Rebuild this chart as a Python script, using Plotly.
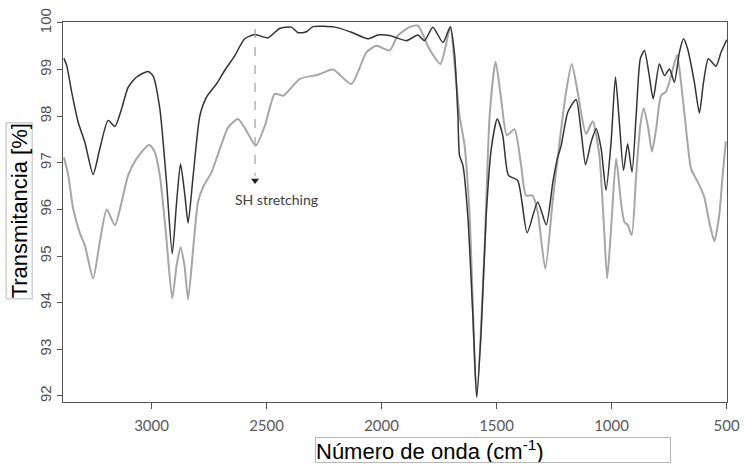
import plotly.graph_objects as go

# Dark spectrum
wn_dark = [3381, 3369, 3347, 3319, 3290, 3254, 3225, 3189, 3159, 3130, 3102, 3065, 3015, 2993,
           2964, 2935, 2910, 2891, 2874, 2855, 2841, 2819, 2790, 2761, 2718, 2682, 2638, 2595,
           2551, 2494, 2443, 2392, 2363, 2327, 2298, 2204, 2131, 2059, 2016, 1965, 1892, 1842,
           1813, 1777, 1733, 1701, 1682, 1668, 1661, 1646, 1625, 1603, 1586, 1567, 1545, 1523,
           1497, 1473, 1448, 1408, 1367, 1321, 1284, 1255, 1235, 1219, 1190, 1154, 1132, 1113,
           1089, 1067, 1045, 1024, 1002, 983, 966, 948, 930, 911, 893, 875, 857, 836, 819, 792,
           770, 748, 727, 705, 687, 669, 640, 618, 600, 579, 546, 524, 499]
t_dark = [99.24, 99.09, 98.51, 97.87, 97.44, 96.75, 97.30, 97.91, 97.78, 98.16, 98.62, 98.84, 98.96, 98.86,
          98.16, 96.59, 95.05, 96.16, 96.98, 96.30, 95.71, 96.73, 98.01, 98.41, 98.69, 98.98, 99.30, 99.66,
          99.75, 99.68, 99.88, 99.91, 99.79, 99.81, 99.92, 99.91, 99.80, 99.66, 99.74, 99.73, 99.62, 99.74,
          99.62, 99.91, 99.58, 99.92, 99.30, 98.01, 97.16, 96.94, 95.87, 93.73, 91.98, 93.37, 95.87, 97.30,
          97.94, 97.59, 96.73, 96.62, 95.50, 96.16, 95.67, 96.59, 97.10, 97.37, 98.09, 98.36, 97.66, 96.96,
          97.44, 97.73, 97.30, 96.41, 97.44, 98.84, 97.87, 96.84, 97.41, 96.80, 98.01, 99.23, 99.41, 98.87, 98.37, 99.12,
          98.87, 99.01, 98.73, 99.37, 99.66, 99.44, 98.73, 98.07, 98.73, 99.23, 99.07, 99.37, 99.64]

# Light spectrum
wn_light = [3381, 3362, 3341, 3311, 3290, 3254, 3225, 3195, 3159, 3130, 3102, 3065, 3010, 2986,
            2964, 2938, 2910, 2891, 2874, 2857, 2841, 2819, 2798, 2776, 2739, 2703, 2667, 2624,
            2588, 2547, 2507, 2464, 2428, 2355, 2276, 2211, 2131, 2066, 2023, 1965, 1929, 1878,
            1842, 1792, 1744, 1701, 1682, 1661, 1639, 1617, 1586, 1552, 1530, 1504, 1480, 1455,
            1422, 1393, 1372, 1343, 1321, 1288, 1255, 1226, 1198, 1173, 1147, 1111, 1082, 1053,
            1034, 1019, 1002, 980, 959, 944, 930, 912, 893, 875, 860, 840, 824, 806, 785, 763,
            741, 715, 698, 676, 654, 625, 597, 575, 553, 532, 517, 503]
t_light = [97.12, 96.73, 96.02, 95.48, 95.23, 94.52, 95.30, 96.00, 95.66, 96.16, 96.73, 97.09, 97.39, 97.23,
           96.73, 95.52, 94.09, 94.80, 95.19, 94.80, 94.07, 95.16, 96.16, 96.48, 96.80, 97.30, 97.76, 97.94,
           97.69, 97.37, 97.80, 98.48, 98.44, 98.80, 98.89, 99.00, 98.69, 99.37, 99.51, 99.41, 99.73, 99.91,
           99.94, 99.44, 99.12, 99.91, 99.09, 98.01, 97.37, 95.87, 91.98, 95.16, 98.01, 99.17, 98.37, 97.59,
           97.72, 96.94, 96.30, 96.30, 95.94, 94.73, 96.23, 97.44, 98.51, 99.12, 98.51, 97.62, 97.89, 97.16,
           95.73, 94.52, 95.59, 97.09, 96.16, 95.73, 95.67, 95.45, 96.73, 97.80, 98.17, 97.73, 97.24, 97.73, 98.44, 98.53,
           98.87, 99.31, 98.73, 97.73, 96.87, 96.59, 96.27, 95.73, 95.32, 95.87, 96.73, 97.46]

x_ticks = [3000, 2500, 2000, 1500, 1000, 500]
y_ticks = [92, 93, 94, 95, 96, 97, 98, 99, 100]

sh_wn = 2550
sh_top = 99.87
sh_tip = 96.62
sh_label = "SH stretching"

fig = go.Figure()
fig.add_trace(go.Scatter(x=wn_light, y=t_light, mode="lines",
                         line=dict(color="#a6a6a6", width=2, shape="spline", smoothing=0.6),
                         showlegend=False, hoverinfo="skip"))
fig.add_trace(go.Scatter(x=wn_dark, y=t_dark, mode="lines",
                         line=dict(color="#333333", width=1.5, shape="spline", smoothing=0.6),
                         showlegend=False, hoverinfo="skip"))

# dashed marker line
fig.add_shape(type="line", x0=sh_wn, x1=sh_wn, y0=sh_top, y1=sh_tip + 0.1,
              xref="x", yref="y", line=dict(color="#a0a0a0", width=1.2, dash="dash"))
fig.add_trace(go.Scatter(x=[sh_wn], y=[sh_tip], mode="markers",
                         marker=dict(symbol="triangle-down", size=7, color="#222222"),
                         showlegend=False, hoverinfo="skip"))
fig.add_annotation(x=2456, y=96.22, xref="x", yref="y", text=sh_label, showarrow=False,
                   font=dict(family="Lato", size=14, color="#404040"))

# axis titles in boxes
fig.add_annotation(xref="paper", yref="paper", x=-0.0655, y=0.503, xanchor="center", yanchor="middle",
                   text="Transmitancia [%]", textangle=-90, showarrow=False,
                   font=dict(family="Liberation Sans", size=22, color="#000000"),
                   bordercolor="#b8b8b8", borderwidth=1, borderpad=0)
fig.add_annotation(xref="paper", yref="paper", x=0.6476, y=-0.126, xanchor="center", yanchor="middle",
                   text="Número de onda (cm<sup>-1</sup>)", showarrow=False, width=354, height=24,
                   align="left",
                   font=dict(family="Liberation Sans", size=22, color="#000000"),
                   bordercolor="#b8b8b8", borderwidth=1, borderpad=0)

fig.update_xaxes(range=[3385, 498], tickvals=x_ticks, ticktext=[str(v) for v in x_ticks],
                 showgrid=False, zeroline=False, showline=True, linecolor="#555555", linewidth=1.3,
                 mirror=True, ticks="outside", ticklen=6, tickcolor="#555555", automargin=False,
                 ticklabelstandoff=4,
                 tickfont=dict(family="Lato", size=15, color="#595959"))
fig.update_yaxes(range=[91.87, 100.02], tickvals=y_ticks, ticktext=[str(v) for v in y_ticks],
                 showgrid=False, zeroline=False, showline=True, linecolor="#555555", linewidth=1.3,
                 mirror=True, ticks="outside", ticklen=5, tickcolor="#555555", tickangle=-90,
                 automargin=False,
                 tickfont=dict(family="Liberation Sans", size=15, color="#505050"))

fig.update_layout(width=745, height=464, margin=dict(l=63, r=18, t=22, b=62),
                  plot_bgcolor="white", paper_bgcolor="white")

fig.write_html("out.html", config={"displayModeBar": False},
               post_script="document.body.style.margin='0';document.body.style.overflow='hidden';")
